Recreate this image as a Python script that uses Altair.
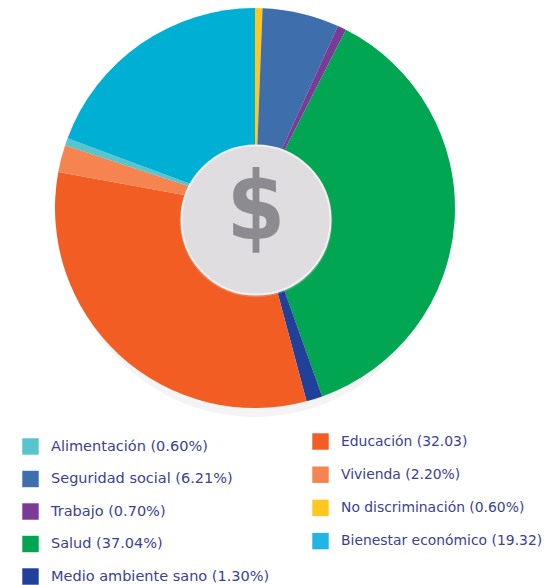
import altair as alt
import pandas as pd

slices = ["No discriminación (0.60%)", "Seguridad social (6.21%)", "Trabajo (0.70%)",
          "Salud (37.04%)", "Medio ambiente sano (1.30%)", "Educación (32.03)",
          "Vivienda (2.20%)", "Alimentación (0.60%)", "Bienestar económico (19.32)"]
values = [0.60, 6.21, 0.70, 37.04, 1.30, 32.03, 2.20, 0.60, 19.32]
pie_colors = ["#ffc720", "#3f6ead", "#7b3a96", "#00a651", "#21409a", "#f15d22", "#f58450", "#56c5d0", "#00afd4"]

left_labels = ["Alimentación (0.60%)", "Seguridad social (6.21%)", "Trabajo (0.70%)",
               "Salud (37.04%)", "Medio ambiente sano (1.30%)"]
left_colors = ["#56c5d0", "#3f6ead", "#7b3a96", "#00a651", "#21409a"]
right_labels = ["Educación (32.03)", "Vivienda (2.20%)", "No discriminación (0.60%)", "Bienestar económico (19.32)"]
right_colors = ["#f15d22", "#f58450", "#ffc720", "#1fb5e5"]

W, H = 535, 577
CX, CY = 247, 200
TEXT = "#3b4193"
FONT = "DejaVu Sans"

pie_df = pd.DataFrame({"label": slices, "value": values, "order": range(len(slices))})

shadow = alt.Chart(pd.DataFrame({"a": [1]})).mark_circle(color="#f4f4f4", opacity=1, size=144400).encode(
    x=alt.value(CX), y=alt.value(CY + 19))

pie = alt.Chart(pie_df).mark_arc(radius=200).encode(
    x=alt.value(CX), y=alt.value(CY),
    theta=alt.Theta("value:Q", stack=True),
    order=alt.Order("order:Q"),
    color=alt.Color("label:N", scale=alt.Scale(domain=slices, range=pie_colors), legend=None),
)

hub_base = alt.Chart(pd.DataFrame({"a": [1]}))
hub_shadow = hub_base.mark_circle(color="#c9c7ca", opacity=0.35, size=23300).encode(
    x=alt.value(CX + 1), y=alt.value(CY + 13))
hub = hub_base.mark_circle(color="#dfdde0", opacity=1, size=22200, stroke="#f2f1f2", strokeWidth=2).encode(
    x=alt.value(CX + 1), y=alt.value(CY + 12))
dollar = alt.Chart(pd.DataFrame({"t": ["$"]})).mark_text(
    fontSize=94, fontWeight="bold", font="DejaVu Sans Condensed", color="#8c8b8f", align="center", baseline="middle",
).encode(x=alt.value(CX + 1), y=alt.value(CY + 3), text="t:N")


def legend_layer(labels, colors, x, y, row_padding, font_size):
    return alt.Chart(pd.DataFrame({"label": labels})).mark_square(opacity=0).encode(
        x=alt.value(0), y=alt.value(0),
        color=alt.Color("label:N", scale=alt.Scale(domain=labels, range=colors), sort=None,
            legend=alt.Legend(title=None, orient="none", legendX=x, legendY=y, symbolType="square",
                              symbolSize=270, symbolOpacity=1, symbolStrokeWidth=0, symbolOffset=0,
                              labelFont=FONT, labelFontSize=font_size, labelColor=TEXT, labelLimit=300,
                              labelOffset=12, rowPadding=row_padding, padding=0)),
    )


chart = alt.layer(
    shadow, pie, hub_shadow, hub, dollar,
    legend_layer(left_labels, left_colors, 14, 430, 15.5, 14.5),
    legend_layer(right_labels, right_colors, 304, 425, 16.2, 13.9),
).resolve_scale(color="independent").properties(
    width=W, height=H, padding=0, background="white",
    autosize=alt.AutoSizeParams(type="none"),
).configure_view(stroke=None, strokeWidth=0)

chart.save("out.html", embed_options={"renderer": "svg", "actions": False})
